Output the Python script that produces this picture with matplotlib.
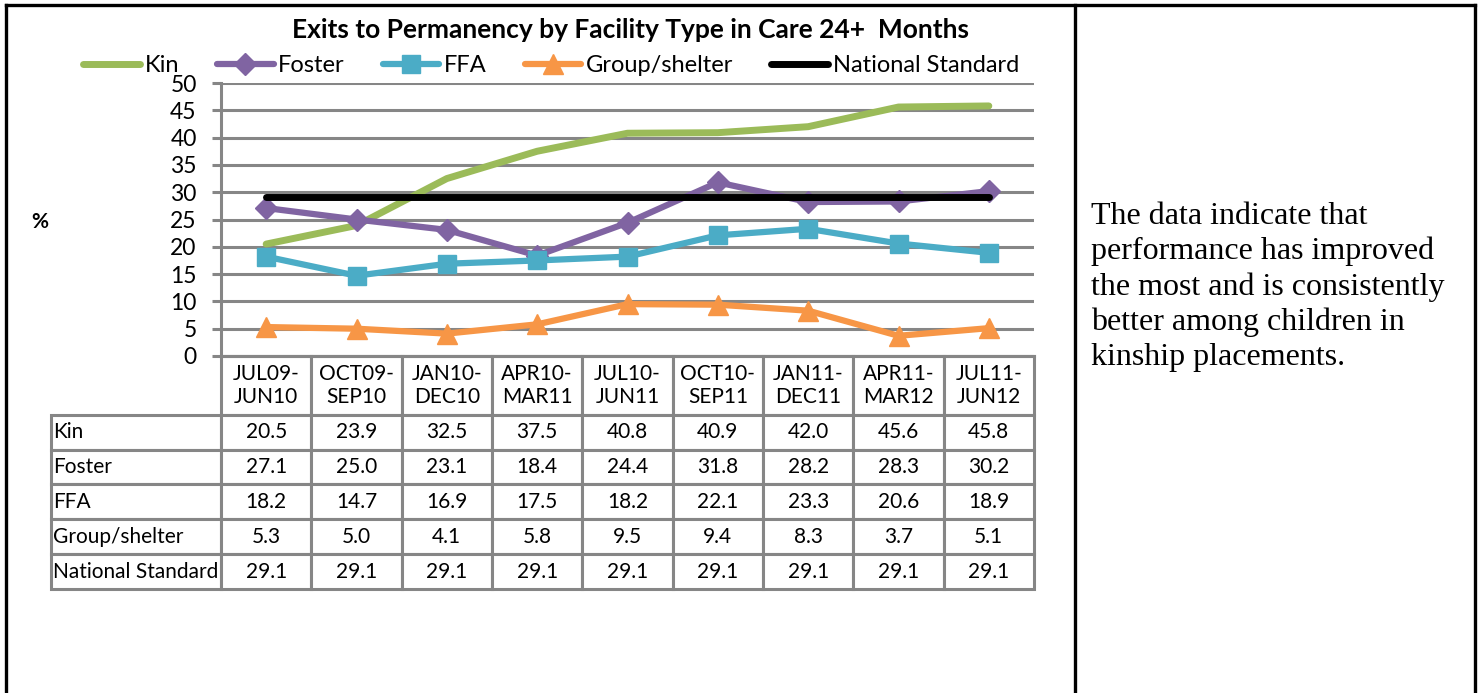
import matplotlib.pyplot as plt
from matplotlib.lines import Line2D

periods = ['JUL09-\nJUN10', 'OCT09-\nSEP10', 'JAN10-\nDEC10', 'APR10-\nMAR11', 'JUL10-\nJUN11',
           'OCT10-\nSEP11', 'JAN11-\nDEC11', 'APR11-\nMAR12', 'JUL11-\nJUN12']
kin = [20.5, 23.9, 32.5, 37.5, 40.8, 40.9, 42.0, 45.6, 45.8]
foster = [27.1, 25.0, 23.1, 18.4, 24.4, 31.8, 28.2, 28.3, 30.2]
ffa = [18.2, 14.7, 16.9, 17.5, 18.2, 22.1, 23.3, 20.6, 18.9]
group = [5.3, 5.0, 4.1, 5.8, 9.5, 9.4, 8.3, 3.7, 5.1]
national = [29.1] * 9

series_names = ['Kin', 'Foster', 'FFA', 'Group/shelter', 'National Standard']
series_vals = [kin, foster, ffa, group, national]
colors = ['#9BBB59', '#8064A2', '#4BACC6', '#F79646', '#000000']
markers = [None, 'D', 's', '^', None]
msizes = [0, 11, 13, 14, 0]
lws = [5, 4.5, 4.5, 4.5, 5]

plt.rcParams['font.family'] = ['Lato', 'DejaVu Sans']
W, H = 1479, 693
fig = plt.figure(figsize=(W / 100, H / 100), dpi=100)

# page frame (document table cell borders)
frame = dict(color='black', lw=2.4, transform=fig.transFigure)
fig.add_artist(Line2D([6 / W, 1475 / W], [1 - 5 / H, 1 - 5 / H], **frame))
fig.add_artist(Line2D([6 / W, 6 / W], [0, 1 - 5 / H], **frame))
fig.add_artist(Line2D([1075 / W, 1075 / W], [0, 1 - 5 / H], **frame))
fig.add_artist(Line2D([1475 / W, 1475 / W], [0, 1 - 5 / H], **frame))

ax_l, ax_r, ax_t, ax_b = 221, 1034, 83, 356
aw, ah = ax_r - ax_l, ax_b - ax_t
ax = fig.add_axes([ax_l / W, 1 - ax_b / H, aw / W, ah / H])
x = list(range(len(periods)))
for name, vals, c, m, ms, lw in zip(series_names, series_vals, colors, markers, msizes, lws):
    ax.plot(x, vals, color=c, lw=lw, marker=m, markersize=ms, label=name,
            solid_capstyle='round', solid_joinstyle='round', zorder=3)

ax.set_xlim(-0.5, 8.5)
ax.set_ylim(0, 50)
ax.set_yticks(range(0, 51, 5))
ax.yaxis.grid(True, color='#868686', lw=2.2)
ax.set_axisbelow(True)
ax.set_xticks([])
for s in ['top', 'right']:
    ax.spines[s].set_visible(False)
for s in ['left', 'bottom']:
    ax.spines[s].set_color('#868686')
    ax.spines[s].set_linewidth(2.2)
ax.tick_params(axis='y', length=6.5, width=2.2, color='#868686', labelsize=16.5, pad=11)
ax.set_ylabel('%', rotation=0, fontsize=15, fontweight='bold', va='center', ha='center')
ax.yaxis.set_label_coords((40 - ax_l) / aw, (ax_b - 222) / ah)

ax.set_title('Exits to Permanency by Facility Type in Care 24+  Months', fontsize=19,
             fontweight='bold', x=(630 - ax_l) / aw, y=(ax_b - 38) / ah, pad=0)

leg = ax.legend(loc='center', bbox_to_anchor=((551 - ax_l) / aw, (ax_b - 66) / ah),
                ncol=5, frameon=False, fontsize=17, handlelength=2.4, handletextpad=0.2,
                columnspacing=1.6, borderpad=0, borderaxespad=0)

# data table under the chart
tab_t, tab_b = 356, 589
head_h, row_h = 59, 35
lab_w = 170
cell_text = [[f'{v:.1f}' for v in vals] for vals in series_vals]
tbl = ax.table(cellText=cell_text, rowLabels=series_names, colLabels=periods,
               colWidths=[1 / len(periods)] * len(periods),
               cellLoc='center', rowLoc='left',
               bbox=[0, (ax_b - tab_b) / ah, 1, (tab_b - tab_t) / ah])
tbl.auto_set_font_size(False)
if -1 in tbl._autoColumns:
    tbl._autoColumns.remove(-1)
for (r, c), cell in tbl.get_celld().items():
    cell.set_edgecolor('#868686')
    cell.set_linewidth(2.2)
    cell.set_height((head_h if r == 0 else row_h) / ah)
    if c == -1:
        cell.set_width(lab_w / aw)
    cell.PAD = 0.01 if c == -1 else 0.0
    cell.get_text().set_fontsize(15)
    cell.set_clip_on(False)

fig.text(1091 / W, 1 - 287 / H, 'The data indicate that\nperformance has improved\nthe most and is consistently\n'
         'better among children in\nkinship placements.', family='Liberation Serif', fontsize=23,
         va='center', ha='left', linespacing=1.27)

plt.savefig('out.png', dpi=100)
